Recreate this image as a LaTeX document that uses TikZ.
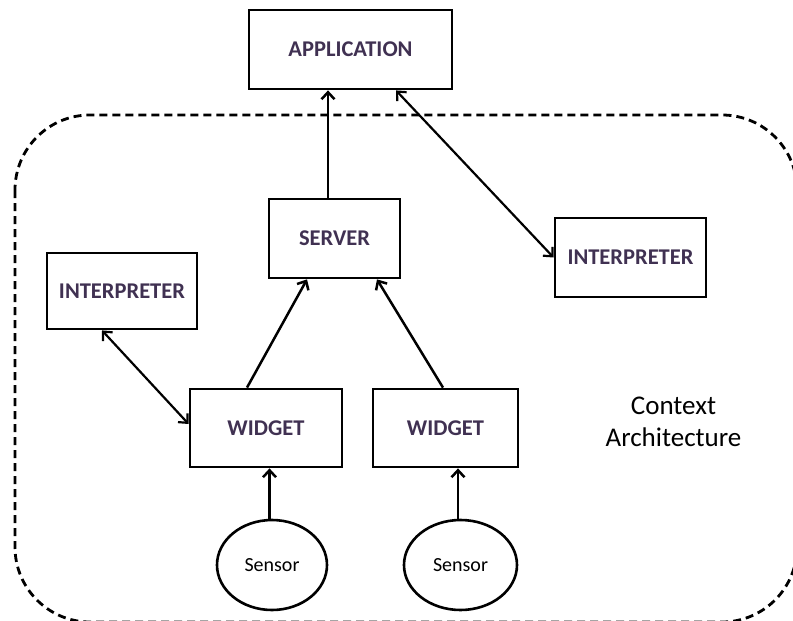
\documentclass[tikz,border=0pt]{standalone}
\usepackage{fontspec}
\setmainfont{Carlito}
\usetikzlibrary{arrows.meta, shapes.geometric}
\definecolor{labelpurple}{HTML}{403152}

\begin{document}
\begin{tikzpicture}[x=1pt, y=-1pt,
    box/.style={draw, line width=2.8pt, fill=white, font=\fontsize{22.5}{26}\selectfont\bfseries, text=labelpurple},
    sensor/.style={draw, ellipse, line width=2.6pt, fill=white, font=\fontsize{20}{24}\selectfont},
    arr/.style={line width=2.5pt, -{Straight Barb[length=7pt, width=13pt]}},
    biarr/.style={line width=2.2pt, {Straight Barb[length=7pt, width=13pt]}-{Straight Barb[length=7pt, width=13pt]}}]
      \useasboundingbox (0, 0) rectangle (793, 621);
      \draw[line width=2.8pt, dash pattern=on 8pt off 5pt, rounded corners=75pt] (15, 115) rectangle (797, 622);
      \node[box, minimum width=203pt, minimum height=79pt] (app) at (350.5, 49.5) {APPLICATION};
      \node[box, minimum width=131pt, minimum height=79pt] (server) at (334.5, 238.5) {SERVER};
      \node[box, minimum width=150pt, minimum height=76pt] (interpL) at (122, 291) {INTERPRETER};
      \node[box, minimum width=151pt, minimum height=79pt] (interpR) at (630.5, 257.5) {INTERPRETER};
      \foreach \x/\w [count=\i] in {266/152, 445.5/145} {
        \node[box, minimum width=\w pt, minimum height=78pt] (widget\i) at (\x, 428) {WIDGET};
      }
      \foreach \x/\w [count=\i] in {272/110, 460.5/113} {
        \node[sensor, minimum width=\w pt, minimum height=90pt] (sensor\i) at (\x, 565) {Sensor};
      }
      \node[align=center, font=\fontsize{27}{32}\selectfont] (ctx) at (673.5, 422) {Context\\Architecture};
      \draw[arr] ([xshift=-6.5pt]server.north) -- ([xshift=-6.5pt]server.north |- app.south);
      \draw[biarr] ([xshift=45.5pt]app.south) -- (interpR.west);
      \draw[biarr] ([xshift=-20pt]interpL.south) -- ([yshift=4pt]widget1.west);
      \draw[arr] ([xshift=-19pt]widget1.north) -- ([xshift=-27.5pt]server.south);
      \draw[arr] ([xshift=-2.5pt]widget2.north) -- ([xshift=42.5pt]server.south);
      \foreach \i in {1, 2} {
        \draw[arr] ([xshift=-2.5pt]sensor\i.north) -- ([xshift=-2.5pt]sensor\i.north |- widget\i.south);
      }
    \end{tikzpicture}
\end{document}
